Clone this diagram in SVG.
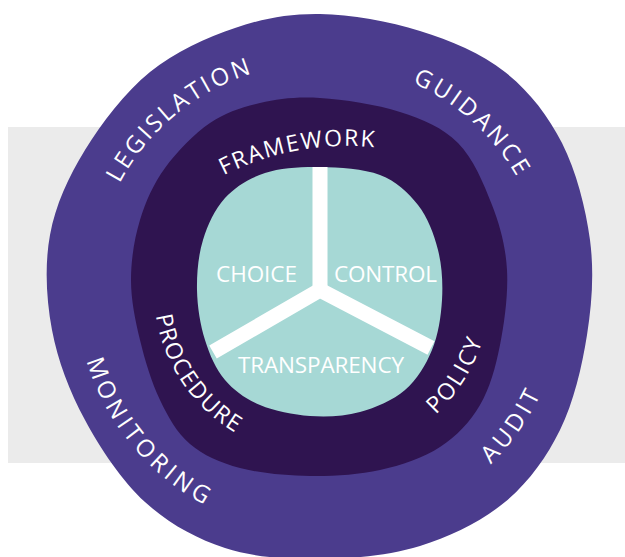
<svg xmlns="http://www.w3.org/2000/svg" width="625" height="557" viewBox="0 0 625 557">
<defs>
<style>
.lbl{fill:#ffffff;font-family:"Open Sans","Liberation Sans",sans-serif;font-weight:400;}
.outer{font-size:24px;}
.inner{font-size:23px;}
.core{font-size:22.5px;}
</style>
<path id="p-legislation" d="M96.3,328.6 A227,227 0 0 1 398.4,77.0"/>
<path id="p-guidance" d="M249.9,74.1 A227,227 0 0 1 542.0,337.2"/>
<path id="p-monitoring" d="M91.8,203.6 A244,244 0 0 0 359.2,530.8"/>
<path id="p-audit" d="M296.6,532.9 A244,244 0 0 0 542.0,188.8"/>
<path id="p-policy" d="M313.2,459.9 A170,170 0 0 0 470.5,211.0"/>
<path id="p-procedure" d="M170.8,217.2 A166,166 0 0 0 331.6,455.6"/>
<path id="p-framework" d="M89.5,328.3 A273,273 0 0 1 554.3,241.3"/>
</defs>

<g id="background">
<rect x="8" y="127" width="617" height="336" fill="#ebebeb"/>
</g>

<g id="outer-ring">
<path fill="#4b3c8d" d="M320,14 C350.8,14.5 389.2,21.3 420,31 C450.8,40.7 481.3,53.3 505,72 C528.7,90.7 547.8,115 562,143 C576.2,171 585.8,208 590,240 C594.2,272 592,303.3 587,335 C582,366.7 573.7,402.2 560,430 C546.3,457.8 528.3,482.7 505,502 C481.7,521.3 450.8,536.5 420,546 C389.2,555.5 352.5,558.7 320,559 C287.5,559.3 254.2,557.5 225,548 C195.8,538.5 168.3,523.3 145,502 C121.7,480.7 100.5,448.7 85,420 C69.5,391.3 57.8,360.8 52,330 C46.2,299.2 44.5,265 50,235 C55.5,205 68.3,177.2 85,150 C101.7,122.8 125,92.3 150,72 C175,51.7 206.7,37.7 235,28 C263.3,18.3 289.2,13.5 320,14 Z"/>
<text class="lbl outer"><textPath href="#p-legislation" startOffset="50%" text-anchor="middle" textLength="176" lengthAdjust="spacing">LEGISLATION</textPath></text>
<text class="lbl outer"><textPath href="#p-guidance" startOffset="50%" text-anchor="middle" textLength="143" lengthAdjust="spacing">GUIDANCE</textPath></text>
<text class="lbl outer"><textPath href="#p-monitoring" startOffset="50%" text-anchor="middle" textLength="191" lengthAdjust="spacing">MONITORING</textPath></text>
<text class="lbl outer"><textPath href="#p-audit" startOffset="50%" text-anchor="middle" textLength="86" lengthAdjust="spacing">AUDIT</textPath></text>
</g>

<g id="inner-ring">
<path fill="#2f1450" d="M320,98 C343.3,99.5 377,104.5 400,112 C423,119.5 442.7,127.5 458,143 C473.3,158.5 483.8,183.8 492,205 C500.2,226.2 505.7,246.7 507,270 C508.3,293.3 504.5,322.5 500,345 C495.5,367.5 490,388 480,405 C470,422 456.7,436.2 440,447 C423.3,457.8 401.7,465.2 380,470 C358.3,474.8 333.3,476.3 310,476 C286.7,475.7 260,473.3 240,468 C220,462.7 203.3,455.3 190,444 C176.7,432.7 168.3,417.3 160,400 C151.7,382.7 144.8,360 140,340 C135.2,320 131,300 131,280 C131,260 134.3,238.7 140,220 C145.7,201.3 153.3,184.2 165,168 C176.7,151.8 194.2,133.8 210,123 C225.8,112.2 241.7,107.2 260,103 C278.3,98.8 296.7,96.5 320,98 Z"/>
<text class="lbl inner"><textPath href="#p-framework" startOffset="50%" text-anchor="middle" textLength="155" lengthAdjust="spacing">FRAMEWORK</textPath></text>
<text class="lbl inner"><textPath href="#p-procedure" startOffset="50%" text-anchor="middle" textLength="146" lengthAdjust="spacing">PROCEDURE</textPath></text>
<text class="lbl inner"><textPath href="#p-policy" startOffset="50%" text-anchor="middle" textLength="88" lengthAdjust="spacing">POLICY</textPath></text>
</g>

<g id="core">
<path fill="#a6d8d5" d="M320,167 C339.2,167.3 363.7,168.7 380,175 C396.3,181.3 408.3,192.5 418,205 C427.7,217.5 434,234.2 438,250 C442,265.8 443,283.3 442,300 C441,316.7 438.2,335 432,350 C425.8,365 417,379.7 405,390 C393,400.3 375.8,407.7 360,412 C344.2,416.3 326.7,417.2 310,416 C293.3,414.8 274.2,411 260,405 C245.8,399 234.2,390.8 225,380 C215.8,369.2 209.7,355 205,340 C200.3,325 197.3,306.7 197,290 C196.7,273.3 198.3,255.3 203,240 C207.7,224.7 214.7,209.2 225,198 C235.3,186.8 249.2,178.2 265,173 C280.8,167.8 300.8,166.7 320,167 Z"/>
</g>

<g id="connectors" fill="none" stroke="#ffffff" stroke-width="15">
<path d="M320,167 V292"/>
<path d="M213,352 L320,290 L431,348" stroke-linejoin="miter"/>
</g>

<g id="core-labels">
<text class="lbl core" x="256.5" y="282" text-anchor="middle" textLength="81" lengthAdjust="spacing">CHOICE</text>
<text class="lbl core" x="385.5" y="282" text-anchor="middle" textLength="103" lengthAdjust="spacing">CONTROL</text>
<text class="lbl core" x="321" y="373" text-anchor="middle" textLength="166" lengthAdjust="spacing">TRANSPARENCY</text>
</g>
</svg>
